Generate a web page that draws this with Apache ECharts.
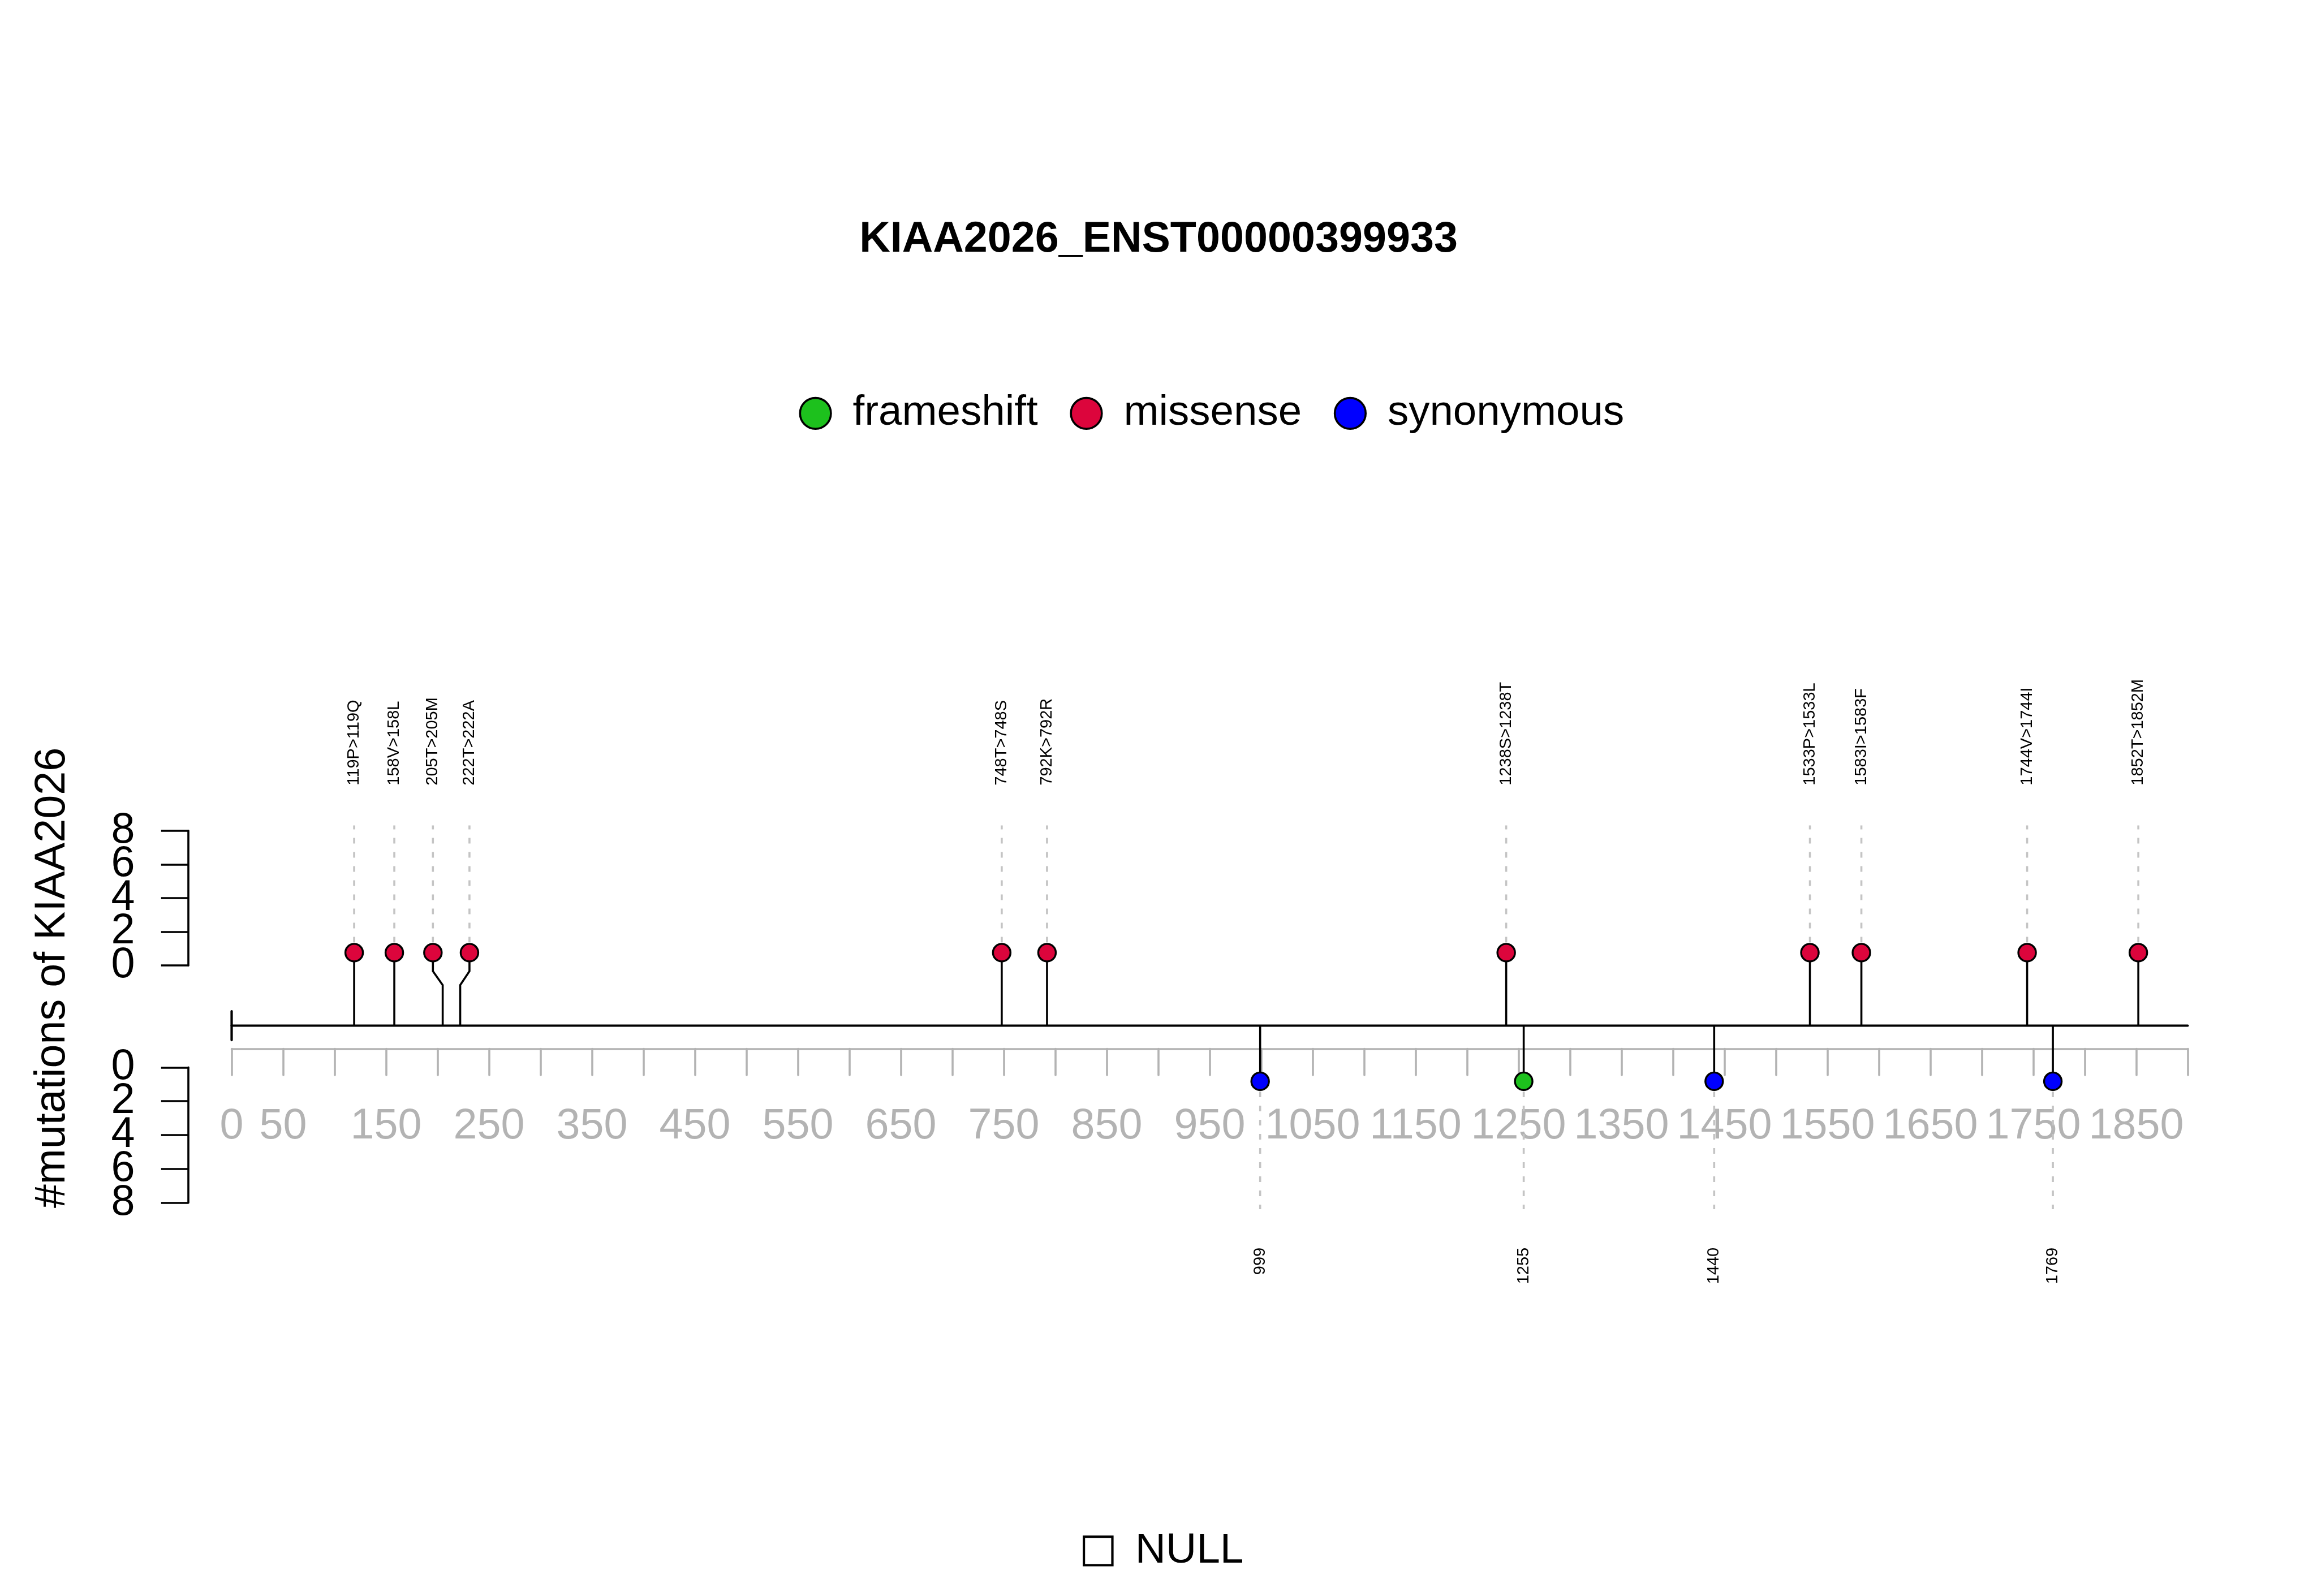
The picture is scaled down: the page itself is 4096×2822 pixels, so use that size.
<!DOCTYPE html>
<html><head><meta charset="utf-8">
<script src="https://cdn.jsdelivr.net/npm/echarts@6/dist/echarts.min.js"></script>
<style>html,body{margin:0;padding:0;background:#fff}#c{width:4096px;height:2822px}</style>
</head><body><div id="c"></div>
<script>
// ---------------- data ----------------
const titleText = 'KIAA2026_ENST00000399933';
const yLabelText = '#mutations of KIAA2026';
const proteinLength = 1900;
const xTickStep = 50;
const countMax = 8;
const countTicks = [0, 2, 4, 6, 8];

const missensePos    = [119, 158, 205, 222, 748, 792, 1238, 1533, 1583, 1744, 1852];
const missenseHeadPos= [119, 158, 195.5, 231, 748, 792, 1238, 1533, 1583, 1744, 1852];
const missenseCount  = [1, 1, 1, 1, 1, 1, 1, 1, 1, 1, 1];
const missenseLabels = ['119P>119Q','158V>158L','205T>205M','222T>222A','748T>748S','792K>792R',
                        '1238S>1238T','1533P>1533L','1583I>1583F','1744V>1744I','1852T>1852M'];

const synonymousPos    = [999, 1440, 1769];
const synonymousCount  = [1, 1, 1];
const synonymousLabels = ['999', '1440', '1769'];

const frameshiftPos    = [1255];
const frameshiftCount  = [1];
const frameshiftLabels = ['1255'];

const typeNames  = ['frameshift', 'missense', 'synonymous'];
const typeColors = {frameshift: '#1DC11D', missense: '#DC053C', synonymous: '#0000FF', NULL: '#FFFFFF'};

// ---------------- style ----------------
const FONT = '"Liberation Sans", Arial, Helvetica, sans-serif';
const GRAY = '#B3B3B3';
const DASH = '#C4C4C4';
const LW = 3.6;
const HEAD_R = 15.5;

const chart = echarts.init(document.getElementById('c'), null, {renderer: 'canvas'});

function labelEl(x, y, text, align) {
  return {type: 'text', x: x, y: y, rotation: Math.PI / 2,
    style: {text: text, fontSize: 29, fontFamily: FONT, fill: '#000', align: align, verticalAlign: 'middle'}};
}

function makeUpper(labels) {
  return function (params, api) {
    const pos = api.value(0), headPos = api.value(1), cnt = api.value(2);
    const base = api.coord([pos, 0]);
    const head = api.coord([headPos, cnt]);
    const pts = [base];
    if (headPos !== pos) {
      const h = head[1] - base[1];
      pts.push([base[0], base[1] + h * 0.556]);
      pts.push([head[0], base[1] + h * 0.746]);
    }
    pts.push(head);
    return {type: 'group', children: [
      {type: 'line', shape: {x1: head[0], y1: head[1] - 18, x2: head[0], y2: head[1] - 225},
        style: {stroke: DASH, lineWidth: LW, lineDash: [10, 15]}},
      {type: 'polyline', shape: {points: pts}, style: {stroke: '#000', lineWidth: LW, fill: null}},
      {type: 'circle', shape: {cx: head[0], cy: head[1], r: HEAD_R},
        style: {fill: api.visual('color'), stroke: '#000', lineWidth: 3.4}},
      labelEl(head[0], head[1] - 295.7, labels[params.dataIndex], 'left')
    ]};
  };
}

function makeLower(labels) {
  return function (params, api) {
    const pos = api.value(0), cnt = api.value(1);
    const base = api.coord([pos, 0]);
    const head = api.coord([pos, cnt]);
    return {type: 'group', children: [
      {type: 'line', shape: {x1: head[0], y1: head[1] + 18, x2: head[0], y2: head[1] + 226},
        style: {stroke: DASH, lineWidth: LW, lineDash: [10, 15]}},
      {type: 'line', shape: {x1: base[0], y1: base[1], x2: head[0], y2: head[1]},
        style: {stroke: '#000', lineWidth: LW}},
      {type: 'circle', shape: {cx: head[0], cy: head[1], r: HEAD_R},
        style: {fill: api.visual('color'), stroke: '#000', lineWidth: 3.4}},
      labelEl(head[0], head[1] + 293.9, labels[params.dataIndex], 'right')
    ]};
  };
}

function renderBackbone(params, api) {
  const a = api.coord([api.value(0), 0]);
  const b = api.coord([api.value(1), 0]);
  return {type: 'group', children: [
    {type: 'line', shape: {x1: a[0], y1: a[1], x2: b[0], y2: b[1]}, style: {stroke: '#000', lineWidth: 4, lineCap: 'round'}},
    {type: 'line', shape: {x1: a[0], y1: a[1] - 25.5, x2: a[0], y2: a[1] + 25.5}, style: {stroke: '#000', lineWidth: 4.2, lineCap: 'round'}}
  ]};
}

const gridL = 409.5, gridW = 3458;
const hiddenX = (gi) => ({type: 'value', gridIndex: gi, min: 0, max: proteinLength, show: false});

// Count axes: ticks split into two interleaved sets on the same scale so that
// the library does not thin out the (overlapping, as in the original) labels.
const ticksA = countTicks.filter((v, i) => i % 2 === 0);   // 0, 4, 8
const ticksB = countTicks.filter((v, i) => i % 2 === 1);   // 2, 6
const countAxis = (gi, inverse, ticks, showLine) => ({
  type: 'value', gridIndex: gi, min: 0, max: countMax, inverse: inverse,
  position: 'left', offset: 0,
  axisLine: {show: showLine, lineStyle: {color: '#000', width: LW}},
  axisTick: {show: true, customValues: ticks, length: 48.2, inside: false, lineStyle: {color: '#000', width: LW}},
  axisLabel: {show: true, customValues: ticks, color: '#000', fontSize: 75.5, fontFamily: FONT, margin: 94.6,
    hideOverlap: false},
  splitLine: {show: false}
});

const option = {
  backgroundColor: '#fff',
  animation: false,
  title: {
    text: titleText, left: 'center', top: 386, padding: 0,
    textStyle: {fontSize: 75.5, fontWeight: 'bold', fontFamily: FONT, color: '#000', lineHeight: 76}
  },
  legend: [
    {
      data: typeNames, left: 1412.5, top: 693.4, padding: 0, orient: 'horizontal',
      itemWidth: 122, itemHeight: 54.6, itemGap: 56.7, icon: 'circle', selectedMode: false,
      itemStyle: {borderColor: '#000', borderWidth: 3.6},
      textStyle: {fontSize: 74.5, fontFamily: FONT, color: '#000', lineHeight: 54.6}
    },
    {
      data: ['NULL'], left: 1914, top: 2704.8, padding: 0,
      itemWidth: 121, itemHeight: 50.4, icon: 'path://M0,0L10,0L10,10L0,10Z', symbolKeepAspect: true,
      selectedMode: false,
      itemStyle: {color: '#fff', borderColor: '#000', borderWidth: 4.2},
      textStyle: {fontSize: 75, fontFamily: FONT, color: '#000', lineHeight: 50.4}
    }
  ],
  grid: [
    {left: gridL, width: gridW, top: 1684.4, height: 129.2},   // 0 upper lollipops
    {left: gridL, width: gridW, top: 1813.6, height: 98.3},    // 1 lower lollipops
    {left: gridL, width: gridW, top: 1800, height: 54.6},      // 2 position axis
    {left: 333, width: 20, top: 1468.7, height: 238.5},        // 3 upper count axis
    {left: 333, width: 20, top: 1887.3, height: 239.4}         // 4 lower count axis
  ],
  xAxis: [
    hiddenX(0), hiddenX(1),
    {
      type: 'value', gridIndex: 2, min: 0, max: proteinLength, interval: xTickStep, position: 'bottom',
      axisLine: {show: true, lineStyle: {color: GRAY, width: LW}},
      axisTick: {show: true, length: 46.4, inside: false, lineStyle: {color: GRAY, width: LW, cap: 'round'}},
      axisLabel: {
        show: true, color: GRAY, fontSize: 75.5, fontFamily: FONT, margin: 137.4, verticalAlign: 'middle',
        showMinLabel: true, showMaxLabel: true,
        formatter: (v) => (v === 0 || v % 100 === 50) ? String(v) : ''
      },
      splitLine: {show: false}
    },
    {type: 'value', gridIndex: 3, show: false, min: 0, max: 1},
    {type: 'value', gridIndex: 4, show: false, min: 0, max: 1}
  ],
  yAxis: [
    {type: 'value', gridIndex: 0, min: 0, max: 1, show: false},
    {type: 'value', gridIndex: 1, min: 0, max: 1, inverse: true, show: false},
    {type: 'value', gridIndex: 2, min: 0, max: 1, show: false},
    countAxis(3, false, ticksA, true),
    countAxis(4, true, ticksA, true),
    countAxis(3, false, ticksB, false),
    countAxis(4, true, ticksB, false)
  ],
  graphic: [
    {type: 'text', x: 93, y: 1729, rotation: Math.PI / 2,
      style: {text: yLabelText, fontSize: 75.5, fontFamily: FONT, fill: '#000', align: 'center', verticalAlign: 'middle'}}
  ],
  series: [
    {type: 'custom', name: 'backbone', xAxisIndex: 0, yAxisIndex: 0, renderItem: renderBackbone,
      data: [[0, proteinLength]], encode: {x: [0, 1]}, z: 1, silent: true},
    {type: 'custom', name: 'missense', xAxisIndex: 0, yAxisIndex: 0, renderItem: makeUpper(missenseLabels),
      itemStyle: {color: typeColors.missense}, z: 3,
      data: missensePos.map((p, i) => [p, missenseHeadPos[i], missenseCount[i]]), encode: {x: [0, 1], y: 2}},
    {type: 'custom', name: 'synonymous', xAxisIndex: 1, yAxisIndex: 1, renderItem: makeLower(synonymousLabels),
      itemStyle: {color: typeColors.synonymous}, z: 3,
      data: synonymousPos.map((p, i) => [p, synonymousCount[i]]), encode: {x: 0, y: 1}},
    {type: 'custom', name: 'frameshift', xAxisIndex: 1, yAxisIndex: 1, renderItem: makeLower(frameshiftLabels),
      itemStyle: {color: typeColors.frameshift}, z: 3,
      data: frameshiftPos.map((p, i) => [p, frameshiftCount[i]]), encode: {x: 0, y: 1}},
    {type: 'custom', name: 'NULL', xAxisIndex: 1, yAxisIndex: 1, renderItem: () => ({type: 'group', children: []}),
      itemStyle: {color: typeColors.NULL}, data: []}
  ]
};
chart.setOption(option);
</script>
</body></html>
